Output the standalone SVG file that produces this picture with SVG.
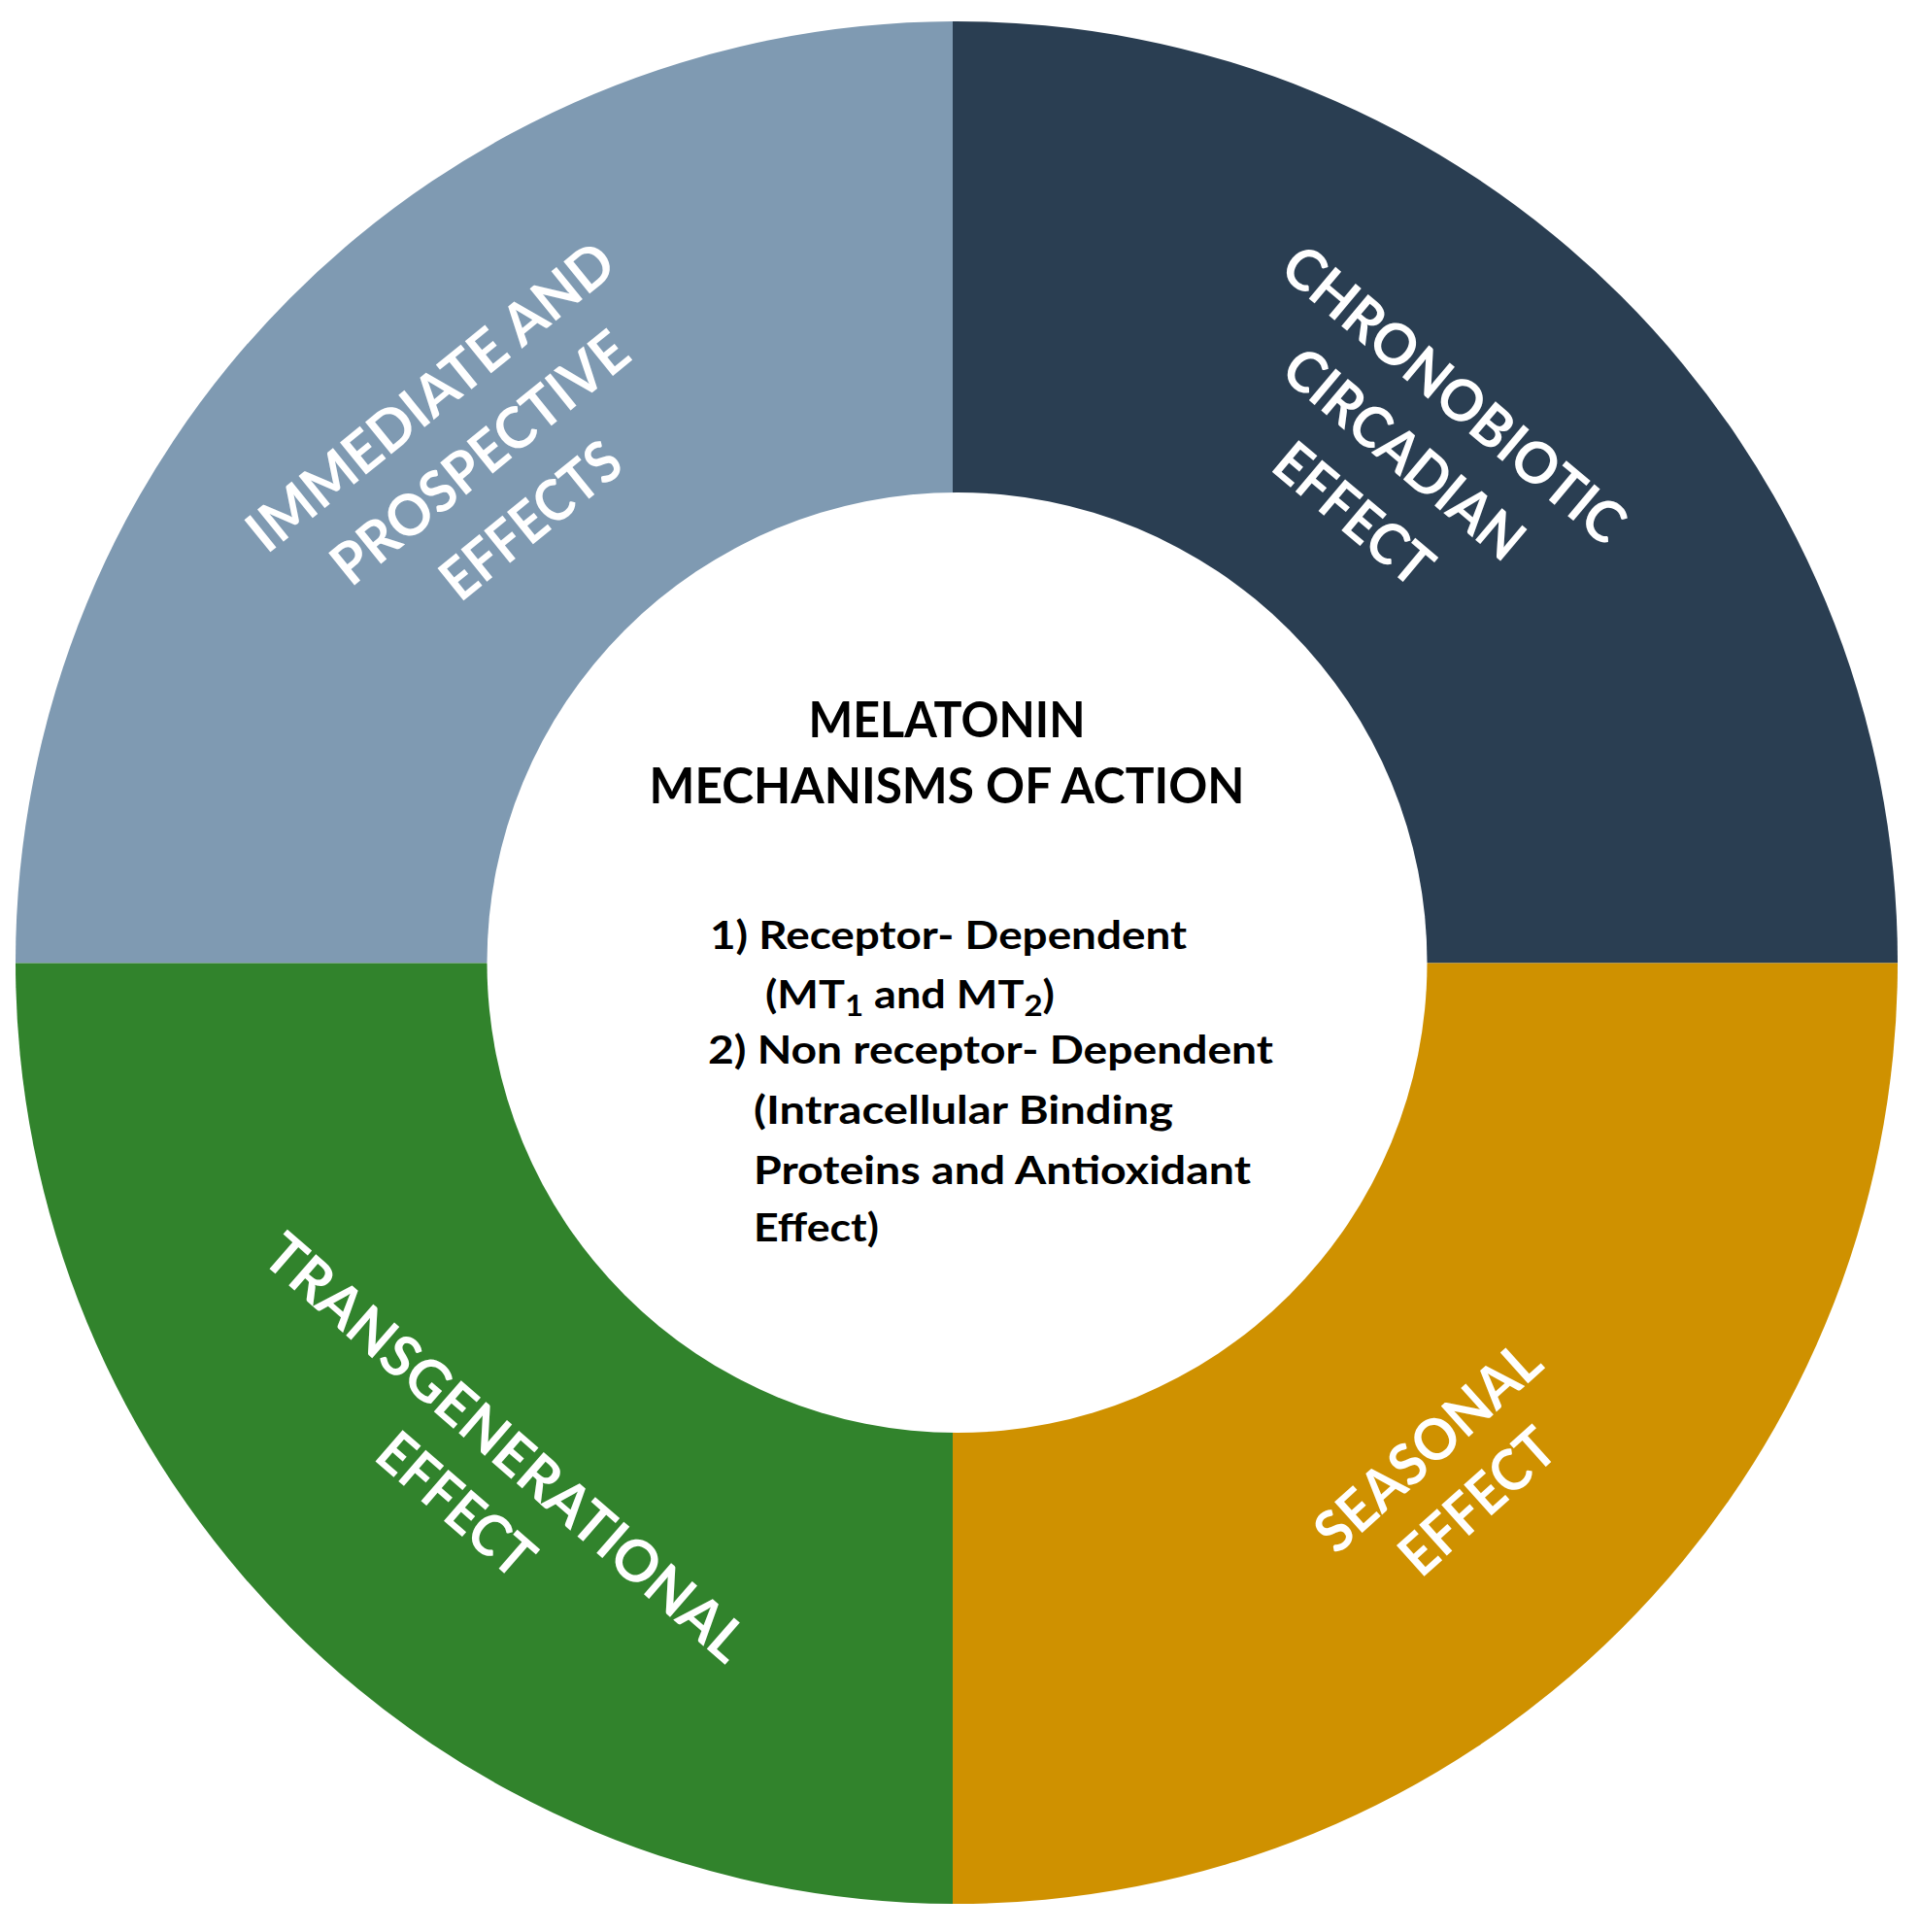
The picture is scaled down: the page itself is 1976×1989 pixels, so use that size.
<svg xmlns="http://www.w3.org/2000/svg" width="1976" height="1989" viewBox="0 0 1976 1989">
<style>
.q{font-family:Lato,"Open Sans","Liberation Sans",sans-serif;font-weight:700;font-size:59px;fill:#ffffff;text-anchor:middle}
.t{font-family:Lato,"Open Sans","Liberation Sans",sans-serif;font-weight:700;fill:#000000}
.h{font-size:51px;text-anchor:middle}
.l{font-size:41px}
</style>
<rect width="1976" height="1989" fill="#ffffff"/>
<g id="immediate">
<path d="M981,991.5 L16,991.5 A969,969 0 0 1 981,22 Z" fill="#7F9AB2"/>
<g transform="translate(494,471) rotate(-39)">
<text class="q" x="0" y="-60" textLength="467" lengthAdjust="spacingAndGlyphs">IMMEDIATE AND</text>
<text class="q" x="0" y="21" textLength="375" lengthAdjust="spacingAndGlyphs">PROSPECTIVE</text>
<text class="q" x="0" y="104" textLength="220" lengthAdjust="spacingAndGlyphs">EFFECTS</text>
</g>
</g>
<g id="chronobiotic">
<path d="M981,991.5 L981,22 A969,969 0 0 1 1954,991.5 Z" fill="#2A3E52"/>
<g transform="translate(1446,467) rotate(40)">
<text class="q" x="0" y="-59" textLength="440" lengthAdjust="spacingAndGlyphs">CHRONOBIOTIC</text>
<text class="q" x="0" y="21" textLength="303" lengthAdjust="spacingAndGlyphs">CIRCADIAN</text>
<text class="q" x="0" y="102" textLength="193" lengthAdjust="spacingAndGlyphs">EFFECT</text>
</g>
</g>
<g id="seasonal">
<path d="M981,991.5 L1954,991.5 A969,969 0 0 1 981,1960 Z" fill="#CF9100"/>
<g transform="translate(1470,1489) rotate(-42)">
<text class="q" x="0" y="21" textLength="290" lengthAdjust="spacingAndGlyphs">SEASONAL</text>
<text class="q" x="0" y="97" textLength="193" lengthAdjust="spacingAndGlyphs">EFFECT</text>
</g>
</g>
<g id="transgenerational">
<path d="M981,991.5 L981,1960 A969,969 0 0 1 16,991.5 Z" fill="#31832C"/>
<g transform="translate(521,1490) rotate(41)">
<text class="q" x="0" y="21" textLength="636" lengthAdjust="spacingAndGlyphs">TRANSGENERATIONAL</text>
<text class="q" x="0" y="99" textLength="193" lengthAdjust="spacingAndGlyphs">EFFECT</text>
</g>
</g>
<g id="center">
<circle cx="985.5" cy="991" r="484" fill="#ffffff"/>
<text class="t h" x="975" y="759" textLength="285" lengthAdjust="spacingAndGlyphs">MELATONIN</text>
<text class="t h" x="975" y="827" textLength="613" lengthAdjust="spacingAndGlyphs">MECHANISMS OF ACTION</text>
<text class="t l" x="731" y="977" textLength="491" lengthAdjust="spacingAndGlyphs">1) Receptor- Dependent</text>
<text class="t l" x="788" y="1038" textLength="298" lengthAdjust="spacingAndGlyphs">(MT<tspan font-size="30" dy="8">1</tspan><tspan dy="-8"> and MT</tspan><tspan font-size="30" dy="8">2</tspan><tspan dy="-8">)</tspan></text>
<text class="t l" x="729" y="1095" textLength="582" lengthAdjust="spacingAndGlyphs">2) Non receptor- Dependent</text>
<text class="t l" x="776" y="1157" textLength="432" lengthAdjust="spacingAndGlyphs">(Intracellular Binding</text>
<text class="t l" x="776" y="1219" textLength="512" lengthAdjust="spacingAndGlyphs">Proteins and Antioxidant</text>
<text class="t l" x="776" y="1278" textLength="129" lengthAdjust="spacingAndGlyphs">Effect)</text>
</g>
<g id="connectors"/>
</svg>
